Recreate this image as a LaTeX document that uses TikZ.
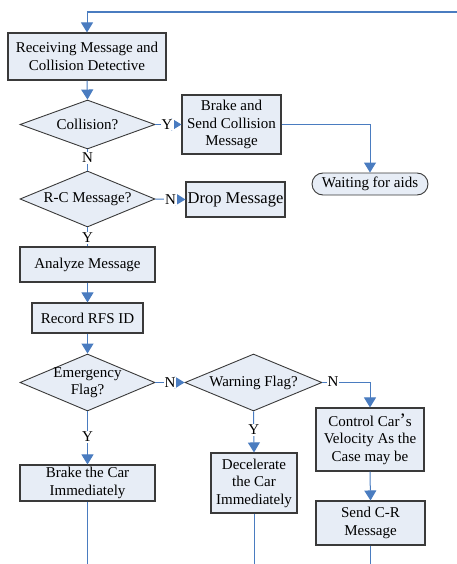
\documentclass[tikz,border=0pt]{standalone}
\usepackage{fontspec}
\setmainfont{Liberation Serif}
\usetikzlibrary{shapes.geometric,arrows.meta}
\definecolor{boxfill}{HTML}{E7EDF6}
\definecolor{boxline}{HTML}{3A3A3A}
\definecolor{flow}{HTML}{4A7CC0}
\begin{document}
\begin{tikzpicture}[x=1pt,y=-1pt,
  every node/.style={font=\fontsize{15}{17.5}\selectfont},
  stepbox/.style={draw=boxline,line width=1.1pt,fill=boxfill,inner sep=0pt,align=center,anchor=center},
  decision/.style={diamond,draw=boxline,line width=0.9pt,fill=boxfill,inner sep=0pt},
  endbox/.style={draw=boxline,line width=0.9pt,fill=boxfill,rounded corners=11pt,inner sep=0pt,align=center},
  flowline/.style={draw=flow,line width=1pt},
  flowarrow/.style={flowline,-{Triangle[width=12pt,length=10pt]}},
  answer/.style={fill=white,inner sep=1pt}]
\useasboundingbox (0,0) rectangle (457,564);

% process boxes
\node[stepbox,minimum width=158,minimum height=47] (recv) at (87,56.5)
  {Receiving Message and\\Collision Detective};
\node[decision,minimum width=135,minimum height=49] (coll) at (87.5,124.5) {};
\node at (coll.center) {Collision?};
\node[stepbox,minimum width=99,minimum height=59] (brake) at (231.5,124.5)
  {Brake and\\Send Collision\\Message};
\node[endbox,minimum width=116,minimum height=22] (wait) at (370,184) {Waiting for aids};

\node[decision,minimum width=135,minimum height=56] (rc) at (87.5,199) {};
\node at (rc.center) {R-C Message?};
\node[stepbox,minimum width=99,minimum height=35,font=\fontsize{16.5}{19}\selectfont] (drop) at (235.5,199.5)
  {Drop Message};

\node[stepbox,minimum width=135,minimum height=35] (analyze) at (87.5,264.5) {Analyze Message};
\node[stepbox,minimum width=111,minimum height=30] (record) at (87.5,318) {Record RFS ID};

\node[decision,minimum width=135,minimum height=57] (emerg) at (87.5,382.5) {};
\node[align=center] at (emerg.center) {Emergency\\Flag?};
\node[decision,minimum width=137,minimum height=57] (warn) at (253.5,382.5) {};
\node at (warn.center) {Warning Flag?};

\node[stepbox,minimum width=108,minimum height=63] (ctrl) at (370,439.5)
  {Control Car\raisebox{-0.5pt}{\fontsize{19}{19}\selectfont’}s\\Velocity As the\\Case may be};
\node[stepbox,minimum width=109,minimum height=44] (send) at (370.5,523)
  {Send C-R\\Message};
\node[stepbox,minimum width=135,minimum height=36] (brakecar) at (87.5,483)
  {Brake the Car\\Immediately};
\node[stepbox,minimum width=86,minimum height=60] (decel) at (254,483)
  {Decelerate\\the Car\\Immediately};

% loose ends of the flow
\coordinate (loopin) at (457,12);
\coordinate (loopcorner) at (87,12);
\coordinate (endA) at (87.5,564);
\coordinate (endB) at (254,564);
\coordinate (endC) at (370.5,564);

% connectors
\draw[flowline,line width=1.6pt] (loopin) -- (loopcorner);
\draw[flowarrow] (loopcorner) -- (recv.north);
\draw[flowarrow] (recv.south) -- (coll.north);
\draw[flowarrow] (coll.east) -- node[answer,pos=0.45]{Y} (brake.west);
\draw[flowarrow] (brake.east) -| (wait.north);
\draw[flowline] (coll.south) -- node[answer,pos=0.4]{N} (rc.north);
\draw[flowarrow] (rc.east) -- node[answer,pos=0.5]{N} (drop.west);
\draw[flowline] (rc.south) -- node[answer,pos=0.55]{Y} (analyze.north);
\draw[flowarrow] (analyze.south) -- (record.north);
\draw[flowarrow] (record.south) -- (emerg.north);
\draw[flowarrow] (emerg.east) -- node[answer,pos=0.5]{N} (warn.west);
\draw[flowarrow] (warn.east) -| (ctrl.north);
\node[answer] at (333,382) {N};
\draw[flowarrow] (emerg.south) -- node[answer,pos=0.48]{Y} (brakecar.north);
\draw[flowarrow] (warn.south) -- node[answer,pos=0.45]{Y} (decel.north);
\draw[flowarrow] (ctrl.south) -- (send.north);
\draw[flowline] (brakecar.south) -- (endA);
\draw[flowline] (decel.south) -- (endB);
\draw[flowline] (send.south) -- (endC);
\end{tikzpicture}
\end{document}
